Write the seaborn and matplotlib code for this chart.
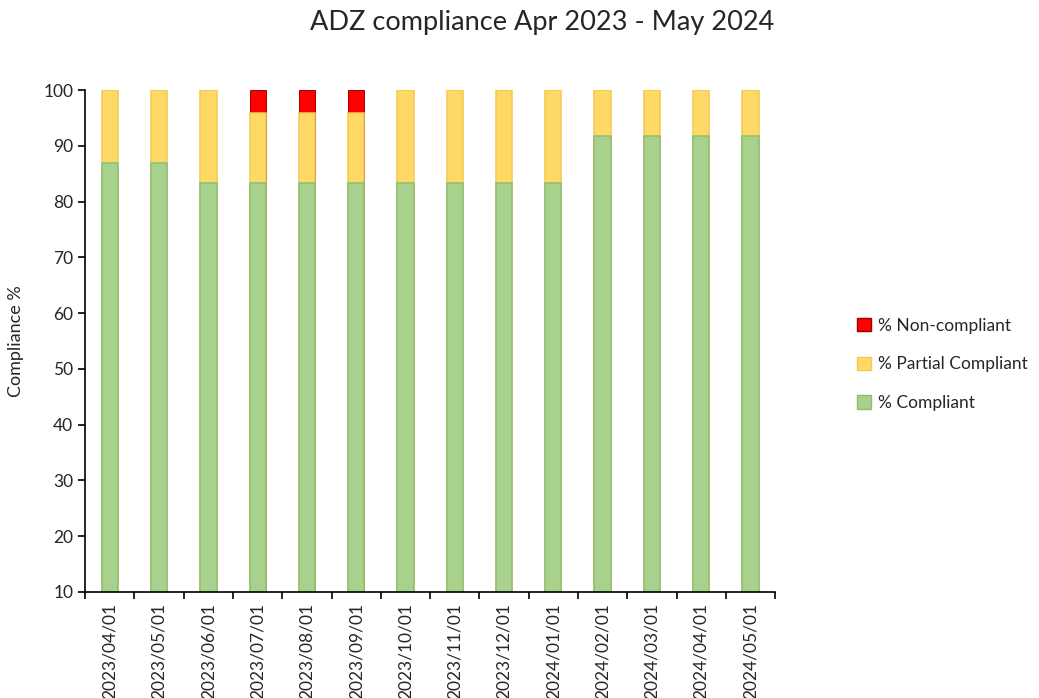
import numpy as np
import pandas as pd
import matplotlib
matplotlib.use('Agg')
import matplotlib.pyplot as plt
import seaborn as sns
from matplotlib.patches import Patch

months = ['2023/04/01', '2023/05/01', '2023/06/01', '2023/07/01', '2023/08/01',
          '2023/09/01', '2023/10/01', '2023/11/01', '2023/12/01', '2024/01/01',
          '2024/02/01', '2024/03/01', '2024/04/01', '2024/05/01']
compliant = [86.9, 86.9, 83.3, 83.3, 83.3, 83.3, 83.3, 83.3, 83.3, 83.3, 91.7, 91.7, 91.7, 91.7]
partial = [13.1, 13.1, 16.7, 12.5, 12.5, 12.5, 16.7, 16.7, 16.7, 16.7, 8.3, 8.3, 8.3, 8.3]
non_compliant = [0, 0, 0, 4.2, 4.2, 4.2, 0, 0, 0, 0, 0, 0, 0, 0]

sns.set_style('white')
plt.rcParams['font.family'] = ['Lato', 'DejaVu Sans']

df = pd.DataFrame({'Month': months, 'Compliant': compliant,
                   'Partial': partial, 'Non': non_compliant})
df['top_partial'] = df['Compliant'] + df['Partial']
# only months with a non-compliant share get a red segment
df['top_non'] = (df['top_partial'] + df['Non']).where(df['Non'] > 0)

fig = plt.figure(figsize=(10.39, 6.98), dpi=100)
ax = fig.add_axes([0.082, 0.152, 0.664, 0.719])

red, yellow, green = '#FF0000', '#FFD966', '#A9D18E'
sns.barplot(data=df, x='Month', y='top_non', color=red, edgecolor='#A00000',
            linewidth=0.7, width=0.33, saturation=1, ax=ax)
sns.barplot(data=df, x='Month', y='top_partial', color=yellow, edgecolor='#F2C94F',
            linewidth=1.1, width=0.33, saturation=1, ax=ax)
sns.barplot(data=df, x='Month', y='Compliant', color=green, edgecolor='#8DBF72',
            linewidth=1.1, width=0.33, saturation=1, ax=ax)

ax.set_ylim(10, 100)
ax.set_xlim(-0.5, len(months) - 0.5)
ax.set_yticks(range(10, 101, 10))
ax.set_xlabel('')
ax.set_ylabel('Compliance %', fontsize=13, labelpad=14)
ax.tick_params(axis='x', which='major', length=0, labelsize=12.5, rotation=90, pad=8)
ax.set_xticks(np.arange(-0.5, len(months), 1), minor=True)
ax.tick_params(axis='x', which='minor', bottom=True, length=5, width=1.2,
               direction='out', color='black')
ax.tick_params(axis='y', length=5, width=1.2, direction='out', labelsize=12.5,
               color='black', left=True)
for s in ['top', 'right']:
    ax.spines[s].set_visible(False)
for s in ['left', 'bottom']:
    ax.spines[s].set_color('black')
    ax.spines[s].set_linewidth(1.2)

handles = [Patch(facecolor=red, edgecolor='#A00000', label='% Non-compliant'),
           Patch(facecolor=yellow, edgecolor='#F2C94F', label='% Partial Compliant'),
           Patch(facecolor=green, edgecolor='#8DBF72', label='% Compliant')]
fig.legend(handles=handles, loc='center left', bbox_to_anchor=(0.81, 0.478),
           frameon=False, fontsize=12.5, handlelength=0.8, handleheight=0.8,
           handletextpad=0.4, labelspacing=1.3)

fig.suptitle('ADZ compliance Apr 2023 - May 2024', x=0.522, y=0.985, fontsize=19.5)
fig.savefig('out.png', dpi=100)
